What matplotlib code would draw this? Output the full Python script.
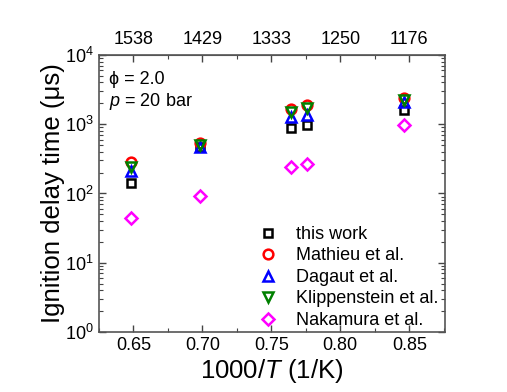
import numpy as np
import matplotlib.pyplot as plt
from matplotlib.ticker import FixedLocator, LogLocator, NullFormatter

plt.rcParams['font.family'] = ['Liberation Sans', 'DejaVu Sans']
plt.rcParams['mathtext.fontset'] = 'custom'
plt.rcParams['mathtext.rm'] = 'Liberation Sans'
plt.rcParams['mathtext.it'] = 'Liberation Sans:italic'

# 1000/T positions
x = [0.648, 0.698, 0.7645, 0.776, 0.846]
this_work = [143, 470, 870, 975, 1600]
mathieu = [285, 540, 1650, 1900, 2350]
dagaut = [212, 462, 1280, 1350, 2100]
klippenstein = [243, 500, 1510, 1700, 2250]
nakamura = [44, 92, 243, 265, 975]

top_ticks = [0.65, 0.70, 0.75, 0.80, 0.85]
top_labels = ['1538', '1429', '1333', '1250', '1176']
minor_x = [0.625, 0.675, 0.725, 0.775, 0.825, 0.875]

fig = plt.figure(figsize=(5.07, 3.92), dpi=100)
ax = fig.add_axes([0.195, 0.153, 0.683, 0.707])

ms = 7
mew = 1.8
ax.plot(x, this_work, 's', ms=6, mfc='none', mec='black', mew=mew, label='this work')
ax.plot(x, mathieu, 'o', ms=ms, mfc='none', mec='red', mew=mew, label='Mathieu et al.')
ax.plot(x, dagaut, '^', ms=ms, mfc='none', mec='blue', mew=mew, label='Dagaut et al.')
ax.plot(x, klippenstein, 'v', ms=ms, mfc='none', mec='green', mew=mew, label='Klippenstein et al.')
ax.plot(x, nakamura, 'D', ms=6, mfc='none', mec='magenta', mew=mew, label='Nakamura et al.')

ax.set_yscale('log')
ax.set_ylim(1, 1e4)
ax.set_xlim(0.625, 0.876)
ax.xaxis.set_major_locator(FixedLocator(top_ticks))
ax.xaxis.set_minor_locator(FixedLocator(minor_x))
ax.yaxis.set_minor_locator(LogLocator(base=10, subs=np.arange(2, 10)))
ax.yaxis.set_minor_formatter(NullFormatter())
ax.set_xticklabels(['0.65', '0.70', '0.75', '0.80', '0.85'])

ax.tick_params(which='both', direction='in', labelsize=13, colors='#444444',
               labelcolor='black', right=True)
ax.tick_params(which='major', length=5, width=1)
ax.tick_params(which='minor', length=3, width=0.8)
for s in ax.spines.values():
    s.set_color('#555555')
    s.set_linewidth(1.2)

top = ax.secondary_xaxis('top')
top.xaxis.set_major_locator(FixedLocator(top_ticks))
top.xaxis.set_minor_locator(FixedLocator(minor_x))
top.set_xticklabels(top_labels)
top.tick_params(which='both', direction='in', labelsize=13, colors='#444444',
                labelcolor='black', pad=5)
top.tick_params(which='major', length=5, width=1)
top.tick_params(which='minor', length=3, width=0.8)
top.spines['top'].set_color('#555555')

ax.set_xlabel('1000/$\\mathit{T}$ (1/K)', fontsize=18.5, labelpad=2)
ax.set_ylabel('Ignition delay time (μs)', fontsize=18.5, labelpad=0)

ax.text(0.03, 0.91, 'ϕ = 2.0', transform=ax.transAxes, fontsize=13, va='center')
ax.text(0.03, 0.83, '$\\mathit{p}$ = 20 bar', transform=ax.transAxes, fontsize=13, va='center')

ax.legend(loc='lower right', bbox_to_anchor=(1.0, -0.015), frameon=False, fontsize=13,
          handletextpad=0.8, labelspacing=0.25, borderaxespad=0.0, handlelength=1.5)

fig.savefig('out.png', dpi=100)
